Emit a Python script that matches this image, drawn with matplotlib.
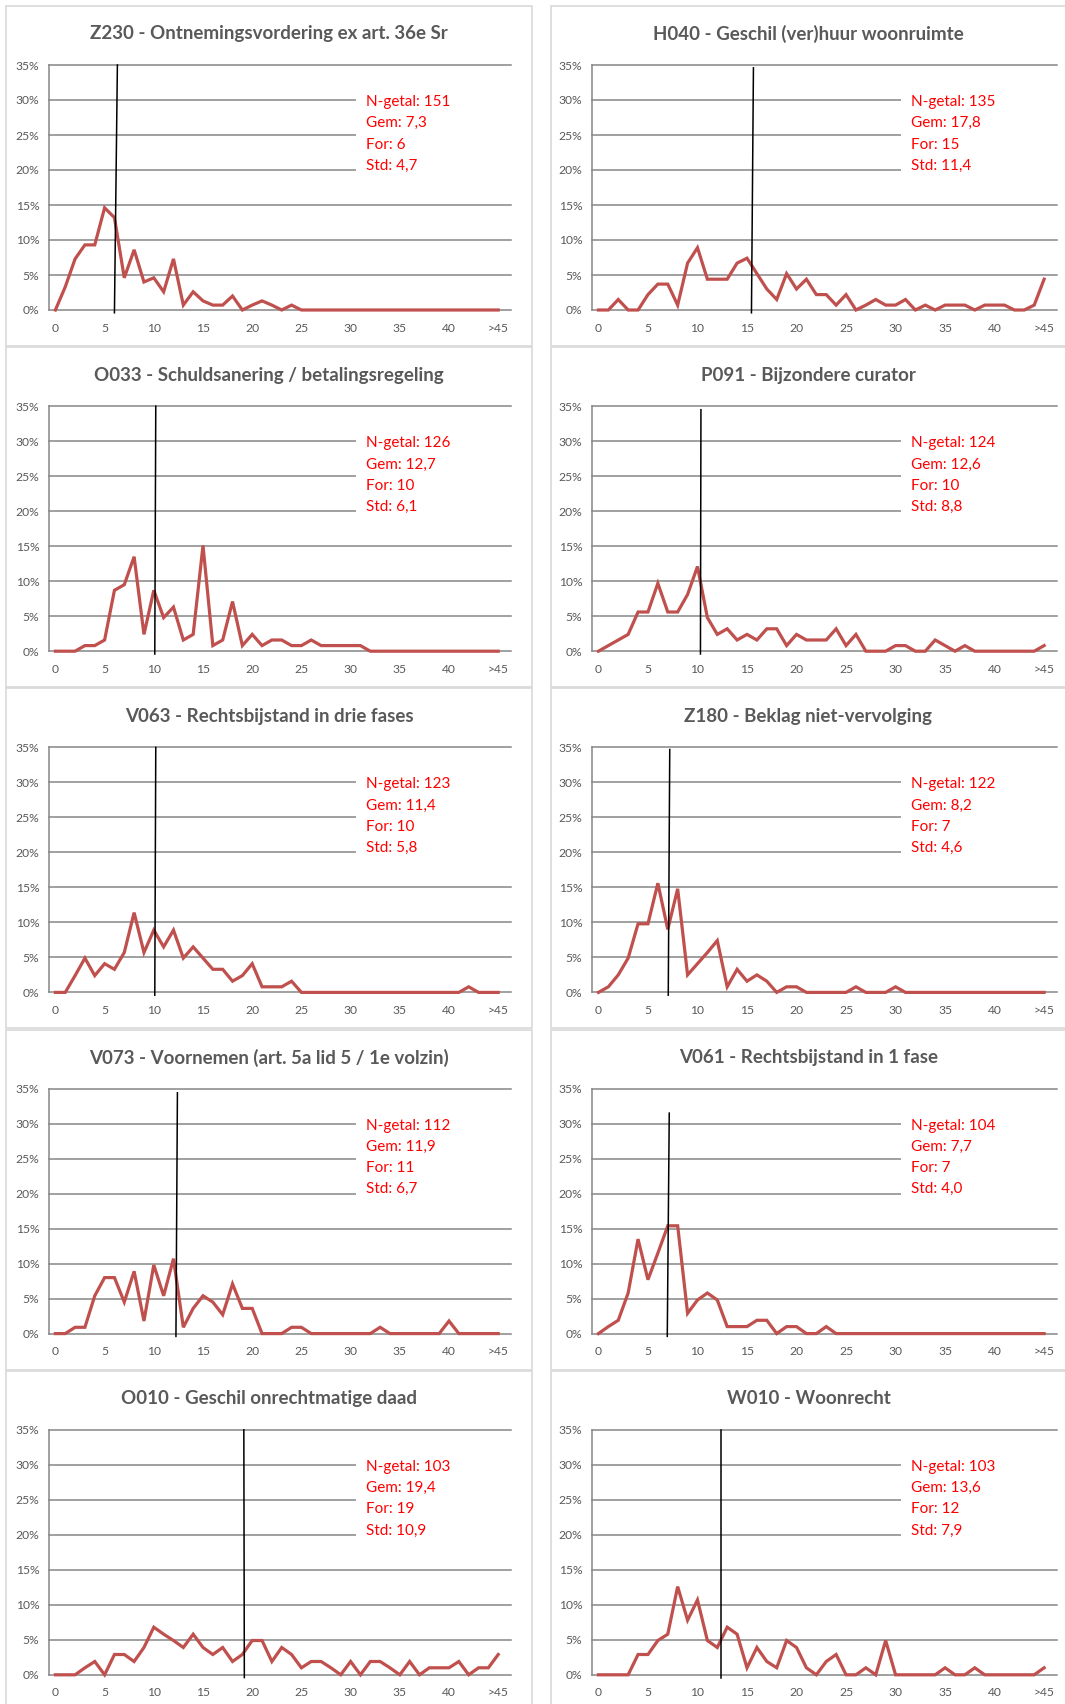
import numpy as np
import matplotlib.pyplot as plt
from matplotlib.patches import Rectangle

plt.rcParams['font.family'] = ['Lato', 'DejaVu Sans']

# share of cases (%) per number of weeks; last category is ">45"
weeks = list(range(46))
tick_pos = [0, 5, 10, 15, 20, 25, 30, 35, 40, 45]
tick_labels = ['0', '5', '10', '15', '20', '25', '30', '35', '40', '>45']

titles = [
    'Z230 - Ontnemingsvordering ex art. 36e Sr',
    'H040 - Geschil (ver)huur woonruimte',
    'O033 - Schuldsanering / betalingsregeling',
    'P091 - Bijzondere curator',
    'V063 - Rechtsbijstand in drie fases',
    'Z180 - Beklag niet-vervolging',
    'V073 - Voornemen (art. 5a lid 5 / 1e volzin)',
    'V061 - Rechtsbijstand in 1 fase',
    'O010 - Geschil onrechtmatige daad',
    'W010 - Woonrecht',
]

n_getal = [151, 135, 126, 124, 123, 122, 112, 104, 103, 103]
gem = [7.3, 17.8, 12.7, 12.6, 11.4, 8.2, 11.9, 7.7, 19.4, 13.6]
modus = [6, 15, 10, 10, 10, 7, 11, 7, 19, 12]
std = [4.7, 11.4, 6.1, 8.8, 5.8, 4.6, 6.7, 4.0, 10.9, 7.9]

z230 = [0, 3.3, 7.3, 9.3, 9.3, 14.6, 13.2, 4.6, 8.6, 4.0,
        4.6, 2.6, 7.3, 0.7, 2.6, 1.3, 0.7, 0.7, 2.0, 0,
        0.7, 1.3, 0.7, 0, 0.7, 0, 0, 0, 0, 0,
        0, 0, 0, 0, 0, 0, 0, 0, 0, 0,
        0, 0, 0, 0, 0, 0]
h040 = [0, 0, 1.5, 0, 0, 2.2, 3.7, 3.7, 0.7, 6.7,
        8.9, 4.4, 4.4, 4.4, 6.7, 7.4, 5.2, 3.0, 1.5, 5.2,
        3.0, 4.4, 2.2, 2.2, 0.7, 2.2, 0, 0.7, 1.5, 0.7,
        0.7, 1.5, 0, 0.7, 0, 0.7, 0.7, 0.7, 0, 0.7,
        0.7, 0.7, 0, 0, 0.7, 4.4]
o033 = [0, 0, 0, 0.8, 0.8, 1.6, 8.7, 9.5, 13.5, 2.4,
        8.7, 4.8, 6.3, 1.6, 2.4, 15.1, 0.8, 1.6, 7.1, 0.8,
        2.4, 0.8, 1.6, 1.6, 0.8, 0.8, 1.6, 0.8, 0.8, 0.8,
        0.8, 0.8, 0, 0, 0, 0, 0, 0, 0, 0,
        0, 0, 0, 0, 0, 0]
p091 = [0, 0.8, 1.6, 2.4, 5.6, 5.6, 9.7, 5.6, 5.6, 8.1,
        12.1, 4.8, 2.4, 3.2, 1.6, 2.4, 1.6, 3.2, 3.2, 0.8,
        2.4, 1.6, 1.6, 1.6, 3.2, 0.8, 2.4, 0, 0, 0,
        0.8, 0.8, 0, 0, 1.6, 0.8, 0, 0.8, 0, 0,
        0, 0, 0, 0, 0, 0.8]
v063 = [0, 0, 2.4, 4.9, 2.4, 4.1, 3.3, 5.7, 11.4, 5.7,
        8.9, 6.5, 8.9, 4.9, 6.5, 4.9, 3.3, 3.3, 1.6, 2.4,
        4.1, 0.8, 0.8, 0.8, 1.6, 0, 0, 0, 0, 0,
        0, 0, 0, 0, 0, 0, 0, 0, 0, 0,
        0, 0, 0.8, 0, 0, 0]
z180 = [0, 0.8, 2.5, 4.9, 9.8, 9.8, 15.6, 9.0, 14.8, 2.5,
        4.1, 5.7, 7.4, 0.8, 3.3, 1.6, 2.5, 1.6, 0, 0.8,
        0.8, 0, 0, 0, 0, 0, 0.8, 0, 0, 0,
        0.8, 0, 0, 0, 0, 0, 0, 0, 0, 0,
        0, 0, 0, 0, 0, 0]
v073 = [0, 0, 0.9, 0.9, 5.4, 8.0, 8.0, 4.5, 8.9, 1.8,
        9.8, 5.4, 10.7, 0.9, 3.6, 5.4, 4.5, 2.7, 7.1, 3.6,
        3.6, 0, 0, 0, 0.9, 0.9, 0, 0, 0, 0,
        0, 0, 0, 0.9, 0, 0, 0, 0, 0, 0,
        1.8, 0, 0, 0, 0, 0]
v061 = [0, 1.0, 1.9, 5.8, 13.5, 7.7, 11.5, 15.4, 15.4, 2.9,
        4.8, 5.8, 4.8, 1.0, 1.0, 1.0, 1.9, 1.9, 0, 1.0,
        1.0, 0, 0, 1.0, 0, 0, 0, 0, 0, 0,
        0, 0, 0, 0, 0, 0, 0, 0, 0, 0,
        0, 0, 0, 0, 0, 0]
o010 = [0, 0, 0, 1.0, 1.9, 0, 2.9, 2.9, 1.9, 3.9,
        6.8, 5.8, 4.9, 3.9, 5.8, 3.9, 2.9, 3.9, 1.9, 2.9,
        4.9, 4.9, 1.9, 3.9, 2.9, 1.0, 1.9, 1.9, 1.0, 0,
        1.9, 0, 1.9, 1.9, 1.0, 0, 1.9, 0, 1.0, 1.0,
        1.0, 1.9, 0, 1.0, 1.0, 2.9]
w010 = [0, 0, 0, 0, 2.9, 2.9, 4.9, 5.8, 12.6, 7.8,
        10.7, 4.9, 3.9, 6.8, 5.8, 1.0, 3.9, 1.9, 1.0, 4.9,
        3.9, 1.0, 0, 1.9, 2.9, 0, 0, 1.0, 0, 4.9,
        0, 0, 0, 0, 0, 1.0, 0, 0, 1.0, 0,
        0, 0, 0, 0, 0, 1.0]
series = [z230, h040, o033, p091, v063, z180, v073, v061, o010, w010]

# hand-drawn reference line: (x at bottom, x at top, top in %)
ref_bottom = [6.0, 15.45, 10.1, 10.3, 10.1, 7.05, 12.25, 6.95, 19.2, 12.37]
ref_top = [6.3, 15.65, 10.2, 10.35, 10.2, 7.2, 12.4, 7.15, 19.15, 12.37]
ref_height = [35, 34.6, 35, 34.5, 35, 34.7, 34.4, 31.5, 35, 35]

W, H = 1065, 1704
fig = plt.figure(figsize=(W / 100, H / 100), dpi=100)

GRID = '#868686'
TXT = '#595959'
row_step = 341.2

def comma(v):
    return f'{v:.1f}'.replace('.', ',')

for i, vals in enumerate(series):
    r, c = divmod(i, 2)
    # panel frame
    bx0 = 6 if c == 0 else 551
    bx1 = 532 if c == 0 else 1066
    by0 = 6 + r * row_step
    by1 = by0 + 340
    fig.patches.append(Rectangle((bx0 / W, 1 - by1 / H), (bx1 - bx0) / W, (by1 - by0) / H,
                                 transform=fig.transFigure, fill=False,
                                 edgecolor='#D9D9D9', lw=1.2))
    fig.text((bx0 + bx1) / 2 / W, 1 - (34 + r * row_step) / H, titles[i],
             ha='center', va='center', fontsize=13.5, fontweight='bold', color=TXT)

    left = 49 if c == 0 else 592
    right = 511 if c == 0 else 1057
    top = 65 + r * row_step
    bottom = 310 + r * row_step
    ax = fig.add_axes([left / W, 1 - bottom / H, (right - left) / W, (bottom - top) / H])
    ax.set_xlim(-0.65, 46.3)
    ax.set_ylim(0, 35)

    ax.set_yticks(range(0, 36, 5))
    ax.set_yticklabels([f'{v}%' for v in range(0, 36, 5)])
    ax.set_xticks(tick_pos)
    ax.set_xticklabels(tick_labels)
    ax.tick_params(length=0, labelsize=8.7, labelcolor=TXT)
    ax.tick_params(axis='y', pad=7)
    ax.tick_params(axis='x', pad=9)

    for s in ['top', 'right', 'bottom']:
        ax.spines[s].set_visible(False)
    ax.spines['left'].set_color(GRID)
    ax.spines['left'].set_linewidth(1.1)

    ax.set_axisbelow(True)
    ax.grid(axis='y', color=GRID, lw=1.1)
    ax.grid(axis='x', visible=False)
    for gl in ax.get_ygridlines():
        gl.set_clip_on(False)

    # white box behind the statistics
    ax.add_patch(Rectangle((30.5, 16.8), 17, 15.7, facecolor='white',
                           edgecolor='none', zorder=1, clip_on=False))

    ax.plot(weeks, vals, color='#C0504D', lw=2.3, clip_on=False, zorder=3,
            solid_joinstyle='miter')
    ax.plot([ref_bottom[i], ref_top[i]], [-0.4, ref_height[i]], color='black',
            lw=1.1, clip_on=False, zorder=4)

    stats = [f'N-getal: {n_getal[i]}', f'Gem: {comma(gem[i])}',
             f'For: {modus[i]}', f'Std: {comma(std[i])}']
    for k, s in enumerate(stats):
        ax.text(31.6, 29.7 - k * 3.03, s, color='#FF0000', fontsize=11,
                ha='left', va='center', zorder=5)

fig.savefig('out.png', dpi=100)
